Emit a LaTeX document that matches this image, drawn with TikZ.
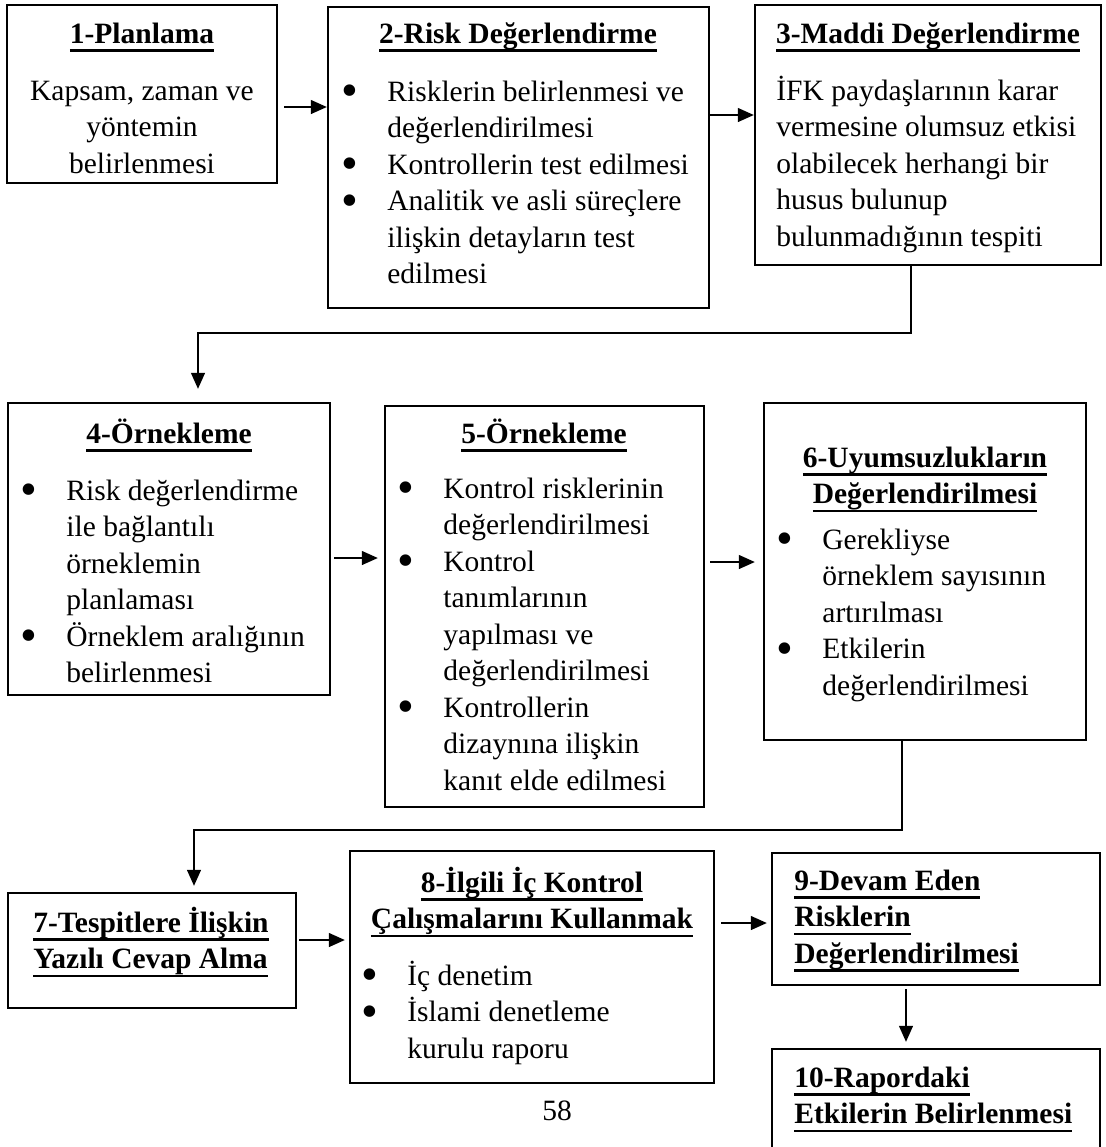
\documentclass[tikz,border=0pt]{standalone}
\usepackage{fontspec}
\setmainfont{Liberation Serif}
\usetikzlibrary{arrows.meta, fit}

\newcommand{\boy}{\fontsize{14.75}{18.25}\selectfont}
\newcommand{\alti}[1]{\setbox0=\hbox{#1}\rlap{\vrule height -3.2pt depth 4.3pt width \wd0}\box0}
\newcommand{\orta}[1]{\begin{tabular}[t]{@{}c@{}}#1\end{tabular}}
\newcommand{\sol}[1]{\begin{tabular}[t]{@{}l@{}}#1\end{tabular}}
\newcommand{\liste}[1]{\begin{tabular}[t]{@{}p{23pt}@{}l@{}}#1\end{tabular}}
\newcommand{\mad}{\smash{\raisebox{-2.8pt}{\fontsize{24}{18}\selectfont\textbullet}}}

\tikzset{
  kutu/.style={draw, line width=1.2pt, inner sep=0pt},
  ok/.style={-{Triangle[length=8pt,width=7pt]}, line width=0.65pt},
  yazi/.style={inner sep=0pt, anchor=base, font=\boy},
  solyazi/.style={inner sep=0pt, anchor=base west, font=\boy},
  baslik/.style={inner sep=0pt, anchor=base, font=\boy\bfseries},
}

\begin{document}
\begin{tikzpicture}[x=0.5pt, y=-0.5pt]
    \useasboundingbox (0,0) rectangle (1105,1147);

    % kutular
    \node[kutu, fit={(7,5) (277,183)}] (k1) {};
    \node[kutu, fit={(328,7) (709,308)}] (k2) {};
    \node[kutu, fit={(755,5) (1101,265)}] (k3) {};
    \node[kutu, fit={(8,403) (330,695)}] (k4) {};
    \node[kutu, fit={(385,406) (704,807)}] (k5) {};
    \node[kutu, fit={(764,403) (1086,740)}] (k6) {};
    \node[kutu, fit={(8,893) (296,1008)}] (k7) {};
    \node[kutu, fit={(350,851) (714,1083)}] (k8) {};
    \node[kutu, fit={(772,853) (1100,985)}] (k9) {};
    \node[kutu, fit={(772,1049) (1100,1170)}] (k10) {};

    % 1. satir
    \node[baslik] (b1) at (142,43) {\alti{1-Planlama}};
    \node[yazi] (m1) at (142,100) {\orta{Kapsam, zaman ve\\ yöntemin\\ belirlenmesi}};
    \node[baslik] (b2) at (518,43) {\alti{2-Risk Değerlendirme}};
    \node[solyazi] (m2) at (341,101) {\liste{\mad & Risklerin belirlenmesi ve\\
        & değerlendirilmesi\\ \mad & Kontrollerin test edilmesi\\
        \mad & Analitik ve asli süreçlere\\ & ilişkin detayların test\\ & edilmesi}};
    \node[baslik] (b3) at (928,43) {\alti{3-Maddi Değerlendirme}};
    \node[solyazi] (m3) at (776,100) {\sol{İFK paydaşlarının karar\\ vermesine olumsuz etkisi\\
        olabilecek herhangi bir\\ husus bulunup\\ bulunmadığının tespiti}};

    % 2. satir
    \node[baslik] (b4) at (169,443) {\alti{4-Örnekleme}};
    \node[solyazi] (m4) at (20,500) {\liste{\mad & Risk değerlendirme\\ & ile bağlantılı\\
        & örneklemin\\ & planlaması\\ \mad & Örneklem aralığının\\ & belirlenmesi}};
    \node[baslik] (b5) at (544,443) {\alti{5-Örnekleme}};
    \node[solyazi] (m5) at (397,498) {\liste{\mad & Kontrol risklerinin\\ & değerlendirilmesi\\
        \mad & Kontrol\\ & tanımlarının\\ & yapılması ve\\ & değerlendirilmesi\\
        \mad & Kontrollerin\\ & dizaynına ilişkin\\ & kanıt elde edilmesi}};
    \node[baslik] (b6) at (925,467) {\orta{\alti{6-Uyumsuzlukların}\\ \alti{Değerlendirilmesi}}};
    \node[solyazi] (m6) at (776,549) {\liste{\mad & Gerekliyse\\ & örneklem sayısının\\
        & artırılması\\ \mad & Etkilerin\\ & değerlendirilmesi}};

    % 3. satir
    \node[baslik, anchor=base west] (b7) at (33,932) {\sol{\alti{7-Tespitlere İlişkin}\\ \alti{Yazılı Cevap Alma}}};
    \node[baslik] (b8) at (532,892) {\orta{\alti{8-İlgili İç Kontrol}\\ \alti{Çalışmalarını Kullanmak}}};
    \node[solyazi] (m8) at (361,985) {\liste{\mad & İç denetim\\ \mad & İslami denetleme\\ & kurulu raporu}};
    \node[baslik, anchor=base west] (b9) at (794,890) {\sol{\alti{9-Devam Eden}\\ \alti{Risklerin}\\ \alti{Değerlendirilmesi}}};
    \node[baslik, anchor=base west] (b10) at (794,1087) {\sol{\alti{10-Rapordaki}\\ \alti{Etkilerin Belirlenmesi}}};
    \node[yazi] (sayfa) at (557,1120) {58};

    % oklar
    \draw[ok, shorten <=3pt] (k1.east |- 0,107) -- (k2.west |- 0,107);
    \draw[ok] (k2.east |- 0,115) -- (k3.west |- 0,115);
    \draw[ok, shorten >=6.5pt] (k3.south -| 911,0) |- (198,333) -- (k4.north -| 198,0);
    \draw[ok, shorten <=1.5pt, shorten >=3pt] (k4.east |- 0,558) -- (k5.west |- 0,558);
    \draw[ok, shorten <=2.5pt, shorten >=4pt] (k5.east |- 0,562) -- (k6.west |- 0,562);
    \draw[ok, shorten >=3pt] (k6.south -| 902,0) |- (194,830) -- (k7.north -| 194,0);
    \draw[ok, shorten <=1pt, shorten >=2pt] (k7.east |- 0,940) -- (k8.west |- 0,940);
    \draw[ok, shorten <=3pt, shorten >=2pt] (k8.east |- 0,923) -- (k9.west |- 0,923);
    \draw[ok, shorten <=1.5pt, shorten >=3pt] (k9.south -| 906,0) -- (k10.north -| 906,0);
\end{tikzpicture}
\end{document}
